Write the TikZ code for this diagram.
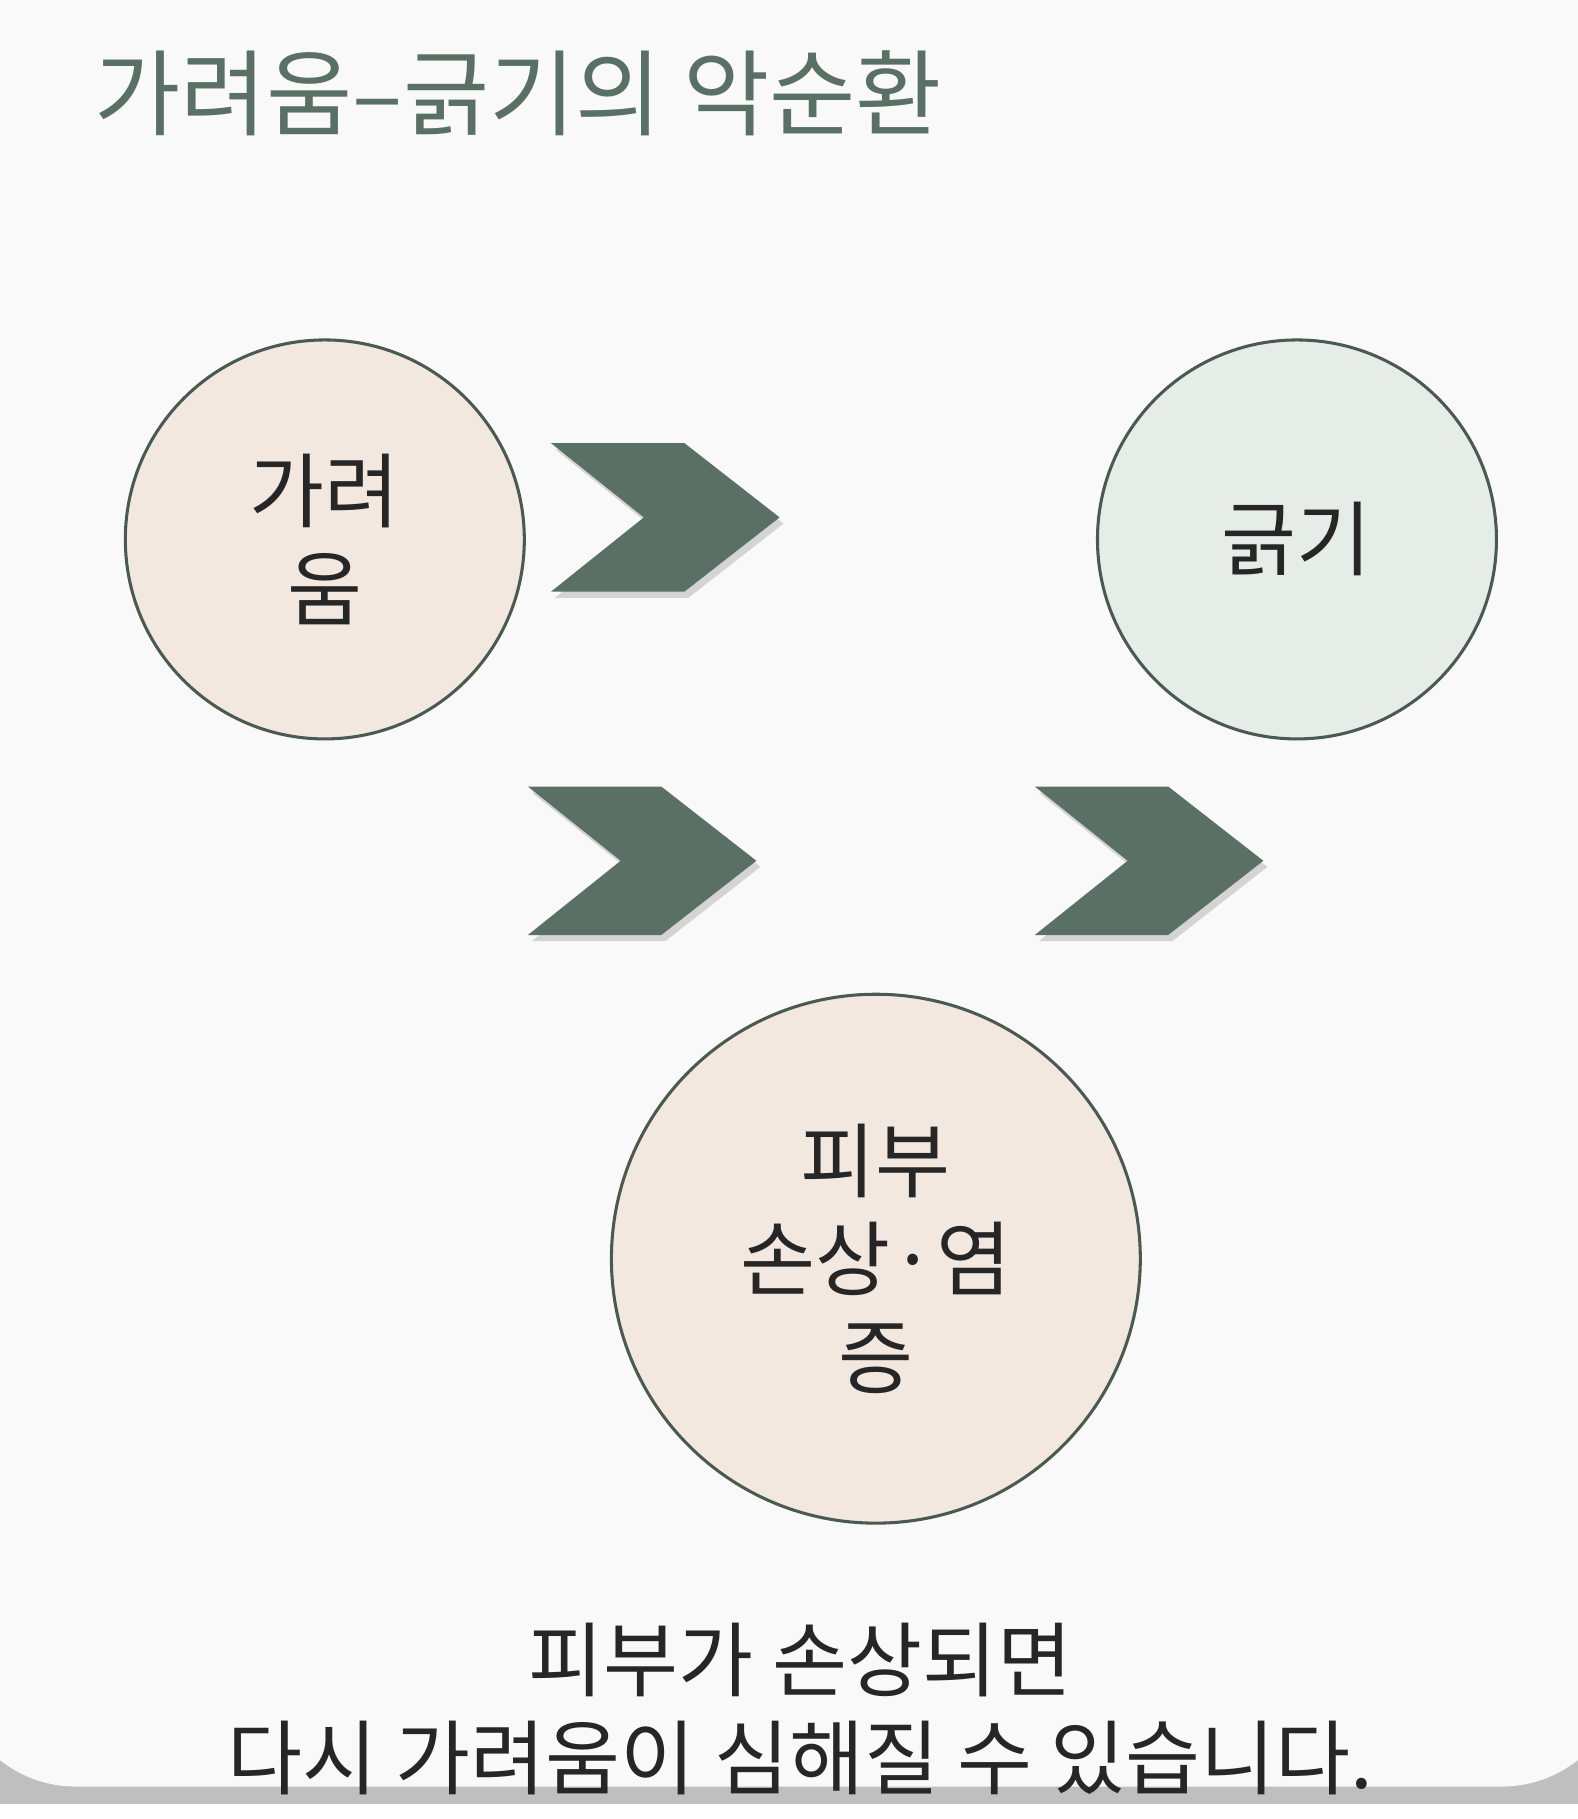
\documentclass[tikz,border=0pt]{standalone}
\usepackage{fontspec}
\setmainfont{Noto Sans CJK KR}
\usetikzlibrary{shadows}
\definecolor{bg}{HTML}{F9F9F9}
\definecolor{dk}{HTML}{5A7065}
\definecolor{beige}{HTML}{F2E8E0}
\definecolor{mint}{HTML}{E6EDE8}
\definecolor{edge}{HTML}{4A5A50}
\begin{document}
\begin{tikzpicture}[x=0.02cm,y=-0.02cm,
  circ/.style={circle,draw=edge,line width=1.5pt,inner sep=0pt,align=center,font=\fontsize{40}{48}\selectfont,text=black!85},
  chev/.style={fill=dk,drop shadow={shadow xshift=2pt,shadow yshift=-3pt,opacity=0.3}}]
\useasboundingbox (0,0) rectangle (1360,1568);
\fill[black!25] (-20,-20) rectangle (1380,1555);
\fill[bg,rounded corners=60pt] (-40,-40) rectangle (1400,1540);
\fill[bg] (-40,-40) rectangle (1400,1000);
\node[anchor=west,text=dk,font=\fontsize{46}{50}\selectfont] (title) at (75,80) {가려움–긁기의 악순환};
\node[circ,fill=beige,minimum size=344\pgflinewidth*0+6.88cm] (c1) at (280,465) {가려\\움};
\node[circ,fill=mint,minimum size=6.88cm] (c2) at (1118,465) {긁기};
\node[circ,fill=beige,minimum size=9.12cm] (c3) at (755,1085) {피부\\손상·염\\증};
\foreach \n/\x/\y in {a/475/382,b/455/678,c/892/678}{
  \fill[chev] (\x,\y) -- ++(115,0) -- ++(82,64) -- ++(-82,64) -- ++(-115,0) -- ++(80,-64) -- cycle;
}
\node[align=center,font=\fontsize{40}{48}\selectfont,text=black!85] (note) at (690,1473) {피부가 손상되면\\다시 가려움이 심해질 수 있습니다.};
\end{tikzpicture}
\end{document}
